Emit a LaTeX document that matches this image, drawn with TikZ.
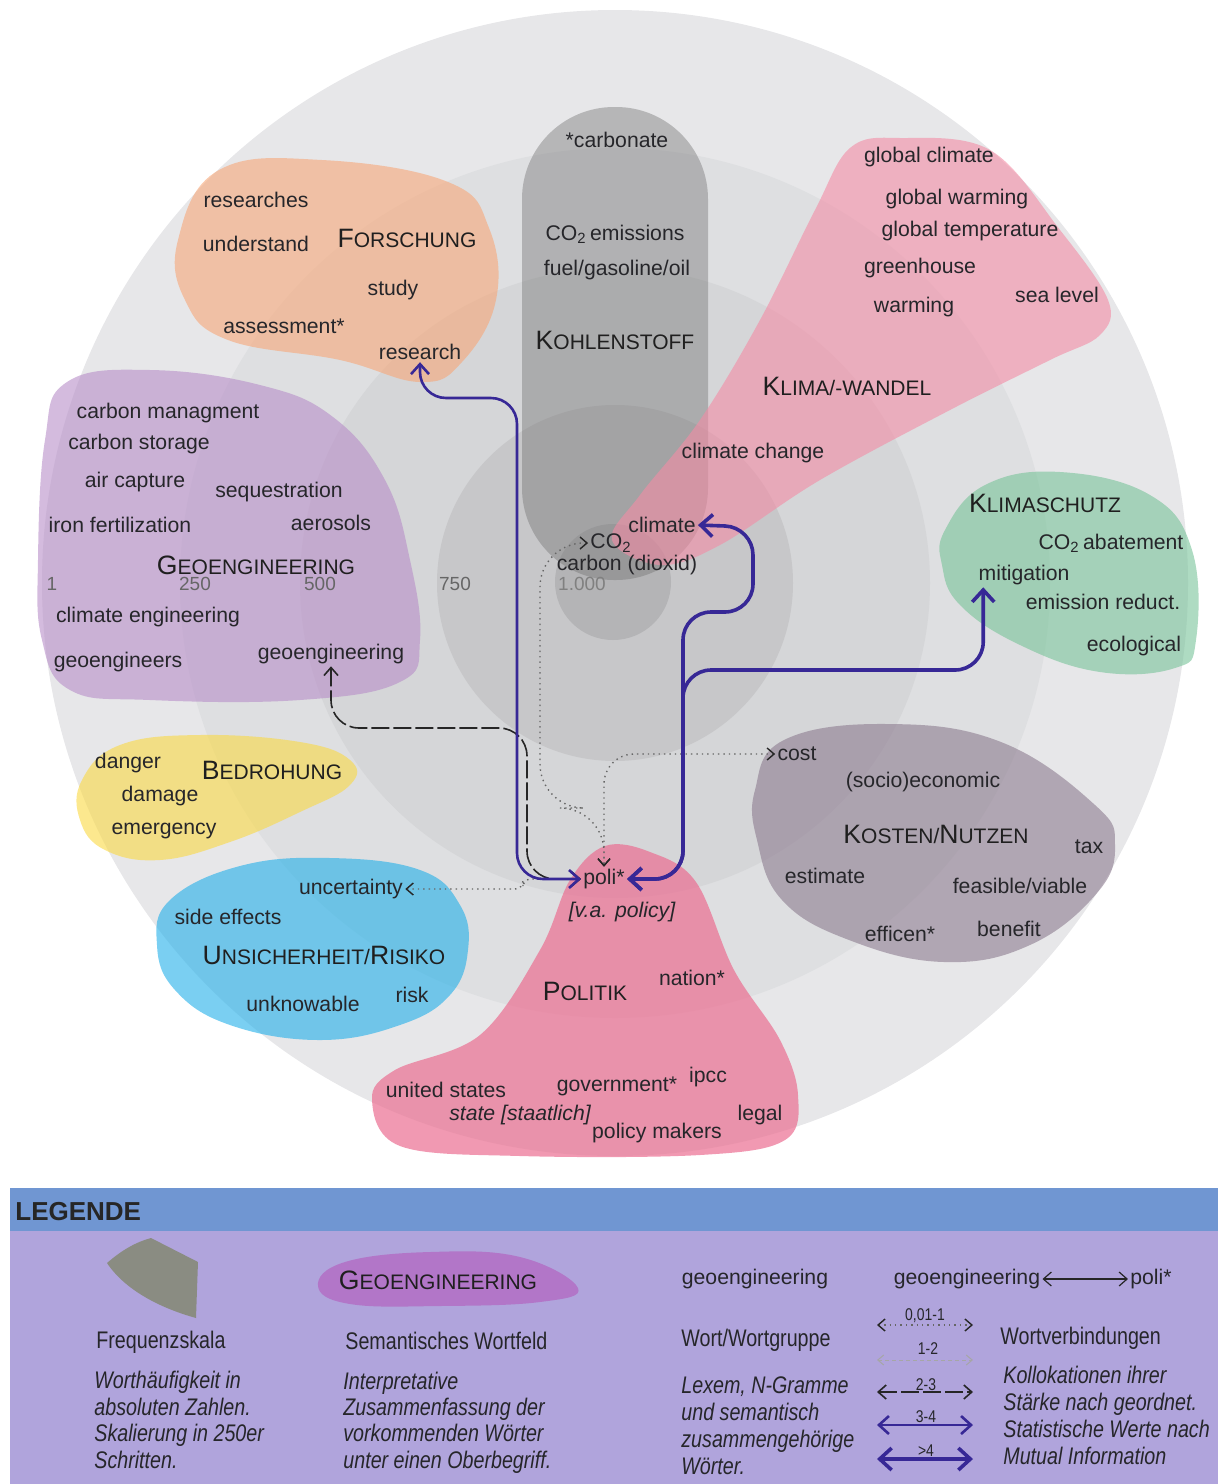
\documentclass[tikz,border=0pt]{standalone}
\usepackage{fontspec}
\setmainfont{Liberation Sans}
\newfontfamily\narrowfont[FakeStretch=0.82]{Liberation Sans}
\usetikzlibrary{arrows.meta}
\definecolor{txt}{RGB}{38,38,42}
\definecolor{ringA}{RGB}{231,231,233}
\definecolor{ringB}{RGB}{222,223,225}
\definecolor{ringC}{RGB}{213,214,216}
\definecolor{ringD}{RGB}{199,199,201}
\definecolor{ringE}{RGB}{180,180,182}
\definecolor{cOrange}{RGB}{247,167,120}
\definecolor{cCarbon}{RGB}{110,110,110}
\definecolor{cPink}{RGB}{243,140,165}
\definecolor{cPol}{RGB}{235,110,145}
\definecolor{cPurple}{RGB}{183,142,200}
\definecolor{cGreen}{RGB}{120,195,153}
\definecolor{cYellow}{RGB}{250,217,67}
\definecolor{cCyan}{RGB}{33,175,233}
\definecolor{cMauve}{RGB}{140,123,143}
\definecolor{navy}{RGB}{55,40,150}
\definecolor{hdr}{RGB}{112,150,210}
\definecolor{lbody}{RGB}{176,164,220}
\definecolor{lwedge}{RGB}{138,140,130}
\definecolor{lblob}{RGB}{178,118,200}
\newcommand\wfont{\fontsize{10.6}{12}\selectfont}
\newcommand\capL[1]{{\fontsize{13.3}{14}\selectfont #1}}
\newcommand\capS[1]{{\fontsize{10.5}{12}\selectfont #1}}
\begin{document}
\begin{tikzpicture}[x=0.5pt,y=-0.5pt,
  wd/.style={font=\wfont, text=txt, inner sep=1pt},
  wdi/.style={font=\wfont\itshape, text=txt, inner sep=1pt},
  ttl/.style={font=\wfont, text=black!88, inner sep=1pt},
  rl/.style={font=\fontsize{9.5}{11}\selectfont, text=black!60, inner sep=1pt},
  blob/.style={fill opacity=0.6},
  con1/.style={dotted, line width=0.7pt, black!60, <->, >={Straight Barb[length=3.5pt,width=6pt,color=black!85]}},
  con2/.style={dash pattern=on 2pt off 1.5pt, line width=0.5pt, black!35, <->, >={Straight Barb[length=3pt,width=5pt]}},
  con3/.style={dash pattern=on 9pt off 2pt, line width=0.8pt, black!85, <->, >={Straight Barb[length=4pt,width=7pt]}},
  con4/.style={line width=1.3pt, navy, <->, >={Straight Barb[length=5pt,width=9pt]}},
  con5/.style={line width=1.8pt, navy, <->, >={Straight Barb[length=6pt,width=11pt]}},
  lg/.style={font=\narrowfont\fontsize{12}{14}\selectfont, text=txt, inner sep=0pt, anchor=base west},
  lgi/.style={font=\narrowfont\itshape\fontsize{12}{14}\selectfont, text=txt, inner sep=0pt, anchor=base west},
  lsm/.style={font=\narrowfont\fontsize{8.5}{10}\selectfont, text=txt, inner sep=0pt}
]
\useasboundingbox (0,0) rectangle (1218,1484);
% frequency rings
\fill[ringA] (615,583) circle (286.5pt);
\fill[ringB] (615,583) circle (217.5pt);
\fill[ringC] (615,583) circle (157.5pt);
\fill[ringD] (615,583) circle (89pt);
\fill[ringE] (613,582) circle (29pt);
% semantic fields
\fill[cCarbon, fill opacity=0.4, rounded corners=46pt] (522,107) rectangle (708,580);
\fill[cOrange, blob] plot[smooth cycle, tension=0.7] coordinates {(219,170) (322,160) (448,182) (489,228) (496,300) (462,362) (420,382) (340,360) (228,340) (185,300) (178,240)};
\fill[cPink, blob] plot[smooth cycle, tension=0.6] coordinates {(612,540) (640,495) (700,420) (760,320) (815,210) (850,148) (900,138) (990,150) (1060,230) (1108,300) (1100,335) (1050,360) (950,410) (820,480) (720,545) (660,565)};
\fill[cPurple, blob] plot[smooth cycle, tension=0.7] coordinates {(67,382) (150,370) (260,385) (333,417) (385,480) (410,560) (420,640) (400,682) (300,700) (150,700) (70,690) (42,640) (38,560) (45,440)};
\fill[cGreen, blob] plot[smooth cycle, tension=0.7] coordinates {(945,530) (985,485) (1060,472) (1150,495) (1192,550) (1196,640) (1175,668) (1100,672) (1020,645) (960,605) (942,565)};
\fill[cYellow, blob] plot[smooth cycle, tension=0.7] coordinates {(82,780) (120,745) (200,735) (300,742) (350,760) (350,785) (300,812) (230,842) (160,860) (105,850) (80,820)};
\fill[cCyan, blob] plot[smooth cycle, tension=0.7] coordinates {(170,900) (240,866) (330,858) (420,870) (460,905) (468,950) (450,995) (400,1025) (320,1040) (230,1025) (175,990) (157,945)};
\fill[cMauve, blob] plot[smooth cycle, tension=0.7] coordinates {(755,790) (784,740) (887,724) (1001,742) (1095,805) (1115,845) (1097,893) (1030,945) (944,962) (849,940) (782,900) (757,840)};
\fill[cPol, fill opacity=0.7] plot[smooth cycle, tension=0.6] coordinates {(605,846) (650,852) (696,882) (734,970) (780,1040) (798,1095) (785,1140) (700,1155) (520,1156) (400,1146) (372,1100) (395,1070) (480,1035) (540,950) (570,880)};
% ring labels
\node[rl] (r1) at (52,584) {1};
\node[rl] (r250) at (195,584) {250};
\node[rl] (r500) at (320,584) {500};
\node[rl] (r750) at (455,584) {750};
\node[rl, text=black!50] (r1000) at (582,584) {1.000};
% Forschung
\node[wd] (researches) at (256,200) {researches};
\node[wd] (understand) at (256,244) {understand};
\node[ttl] (forschung) at (407,238) {\capL{F}\capS{ORSCHUNG}};
\node[wd] (study) at (393,290) {study};
\node[wd] (assessment) at (284,326) {assessment*};
\node[wd] (research) at (420,352) {research};
% Kohlenstoff
\node[wd] (carbonate) at (617,140) {*carbonate};
\node[wd] (co2em) at (615,234) {CO\textsubscript{2}\,emissions};
\node[wd] (fuel) at (617,270) {fuel/gasoline/oil};
\node[ttl] (kohlenstoff) at (615,340) {\capL{K}\capS{OHLENSTOFF}};
\node[wd] (co2) at (611,543) {CO\textsubscript{2}};
\node[wd] (carbon) at (627,565) {carbon (dioxid)};
% Klima
\node[wd] (globclim) at (929,157) {global climate};
\node[wd] (globwarm) at (957,199) {global warming};
\node[wd] (globtemp) at (970,231) {global temperature};
\node[wd] (greenhouse) at (920,268) {greenhouse};
\node[wd] (warming) at (914,307) {warming};
\node[wd] (sealevel) at (1057,295) {sea level};
\node[ttl] (klima) at (847,386) {\capL{K}\capS{LIMA/-WANDEL}};
\node[wd] (climchange) at (753,453) {climate change};
\node[wd] (climate) at (662,525) {climate};
% Geoengineering
\node[wd] (carbman) at (168,413) {carbon managment};
\node[wd] (carbstor) at (139,444) {carbon storage};
\node[wd] (aircap) at (135,482) {air capture};
\node[wd] (sequest) at (279,492) {sequestration};
\node[wd] (ironfert) at (120,525) {iron fertilization};
\node[wd] (aerosols) at (331,523) {aerosols};
\node[ttl] (geotitle) at (256,565) {\capL{G}\capS{EOENGINEERING}};
\node[wd] (climeng) at (148,617) {climate engineering};
\node[wd] (geoengineers) at (118,662) {geoengineers};
\node[wd] (geoeng) at (331,654) {geoengineering};
% Klimaschutz
\node[ttl] (klimaschutz) at (1045,503) {\capL{K}\capS{LIMASCHUTZ}};
\node[wd] (abatement) at (1111,543) {CO\textsubscript{2}\,abatement};
\node[wd] (mitigation) at (1024,575) {mitigation};
\node[wd] (emred) at (1103,602) {emission reduct.};
\node[wd] (ecological) at (1134,646) {ecological};
% Bedrohung
\node[wd] (danger) at (128,763) {danger};
\node[ttl] (bedrohung) at (272,770) {\capL{B}\capS{EDROHUNG}};
\node[wd] (damage) at (160,796) {damage};
\node[wd] (emergency) at (164,831) {emergency};
% Unsicherheit
\node[wd] (uncertainty) at (351,889) {uncertainty};
\node[wd] (sideeff) at (228,917) {side effects};
\node[ttl] (unsicher) at (324,955) {\capL{U}\capS{NSICHERHEIT/}\capL{R}\capS{ISIKO}};
\node[wd] (unknowable) at (303,1004) {unknowable};
\node[wd] (risk) at (412,995) {risk};
% Politik
\node[wd] (poli) at (604,879) {poli*};
\node[wdi] (policy) at (622,912) {[v.a. policy]};
\node[ttl] (politik) at (585,991) {\capL{P}\capS{OLITIK}};
\node[wd] (nation) at (692,978) {nation*};
\node[wd] (usa) at (446,1090) {united states};
\node[wd] (government) at (617,1086) {government*};
\node[wd] (ipcc) at (708,1077) {ipcc};
\node[wdi] (state) at (520,1115) {state [staatlich]};
\node[wd] (polmakers) at (657,1133) {policy makers};
\node[wd] (legal) at (760,1115) {legal};
% Kosten/Nutzen
\node[wd] (cost) at (797,754) {cost};
\node[wd] (socio) at (923,782) {(socio)economic};
\node[ttl] (kosten) at (936,834) {\capL{K}\capS{OSTEN/}\capL{N}\capS{UTZEN}};
\node[wd] (tax) at (1089,847) {tax};
\node[wd] (estimate) at (825,876) {estimate};
\node[wd] (feasible) at (1020,886) {feasible/viable};
\node[wd] (efficen) at (900,934) {efficen*};
\node[wd] (benefit) at (1009,929) {benefit};
% connectors
\draw[con1, rounded corners=22pt] (co2.west) -| (540,808) -| (poli.north);
\draw[con1, rounded corners=15pt] (cost.west) -| (poli.north);
\draw[con1, rounded corners=4pt] (uncertainty.east) -| (523,879) -- (poli.west);
\draw[con3, rounded corners=14pt] (geoeng.south) |- (527,728) |- (poli.west);
\draw[con4, rounded corners=13pt] (research.south) |- (517,398) |- (poli.west);
\coordinate (mitarrow) at ([xshift=3.5pt]mitigation.south west);
\draw[con5, rounded corners=14pt] (poli.east) -| (683,670) -| (mitarrow);
\draw[con5, rounded corners=14pt] (poli.east) -| (683,612) -| (753,527) -- (climate.east);
% legend
\fill[hdr] (10,1188) rectangle (1218,1231);
\fill[lbody] (10,1231) rectangle (1218,1484);
\node[font=\bfseries\fontsize{13}{15}\selectfont, text=black!85, anchor=base west, inner sep=0pt] (legende) at (15,1220) {LEGENDE};
\fill[lwedge] (107,1263) .. controls (122,1250) and (136,1242) .. (151,1238) -- (198,1262) -- (196,1318) .. controls (160,1308) and (125,1290) .. cycle;
\fill[lblob] plot[smooth cycle, tension=0.7] coordinates {(318,1286) (345,1262) (430,1252) (520,1257) (578,1288) (540,1302) (440,1306) (350,1304)};
\node[ttl] (lgeotitle) at (438,1280) {\capL{G}\capS{EOENGINEERING}};
\node[lg] (lfreq) at (96,1348) {Frequenzskala};
\node[lgi] (lf1) at (94,1388) {Worthäufigkeit in};
\node[lgi] (lf2) at (94,1415) {absoluten Zahlen.};
\node[lgi] (lf3) at (94,1441) {Skalierung in 250er};
\node[lgi] (lf4) at (94,1468) {Schritten.};
\node[lg] (lsem) at (345,1349) {Semantisches Wortfeld};
\node[lgi] (ls1) at (343,1389) {Interpretative};
\node[lgi] (ls2) at (343,1415) {Zusammenfassung der};
\node[lgi] (ls3) at (343,1441) {vorkommenden Wörter};
\node[lgi] (ls4) at (343,1468) {unter einen Oberbegriff.};
\node[wd] (lword) at (755,1279) {geoengineering};
\node[lg] (lwort) at (681,1346) {Wort/Wortgruppe};
\node[lgi] (lw1) at (681,1393) {Lexem, N-Gramme};
\node[lgi] (lw2) at (681,1420) {und semantisch};
\node[lgi] (lw3) at (681,1447) {zusammengehörige};
\node[lgi] (lw4) at (681,1474) {Wörter.};
\node[wd] (lgeo) at (967,1279) {geoengineering};
\node[wd] (lpoli) at (1151,1279) {poli*};
\draw[line width=0.6pt, black!85, <->, >={Straight Barb[length=4pt,width=7pt]}] (lgeo.east) -- (lpoli.west);
\node[lg] (lverb) at (1000,1344) {Wortverbindungen};
\node[lgi] (lv1) at (1003,1383) {Kollokationen ihrer};
\node[lgi] (lv2) at (1003,1410) {Stärke nach geordnet.};
\node[lgi] (lv3) at (1003,1437) {Statistische Werte nach};
\node[lgi] (lv4) at (1003,1464) {Mutual Information};
\coordinate (a1l) at (877,1325); \coordinate (a1r) at (973,1325);
\coordinate (a2l) at (877,1360); \coordinate (a2r) at (973,1360);
\coordinate (a3l) at (877,1392); \coordinate (a3r) at (973,1392);
\coordinate (a4l) at (877,1425); \coordinate (a4r) at (973,1425);
\coordinate (a5l) at (877,1459); \coordinate (a5r) at (973,1459);
\draw[con1] (a1l) -- (a1r);
\draw[con2] (a2l) -- (a2r);
\draw[con3] (a3l) -- (a3r);
\draw[con4] (a4l) -- (a4r);
\draw[con5] (a5l) -- (a5r);
\node[lsm] (t1) at (925,1316) {0,01-1};
\node[lsm] (t2) at (928,1349) {1-2};
\node[lsm] (t3) at (926,1385) {2-3};
\node[lsm] (t4) at (926,1417) {3-4};
\node[lsm] (t5) at (926,1451) {>4};
\end{tikzpicture}
\end{document}
